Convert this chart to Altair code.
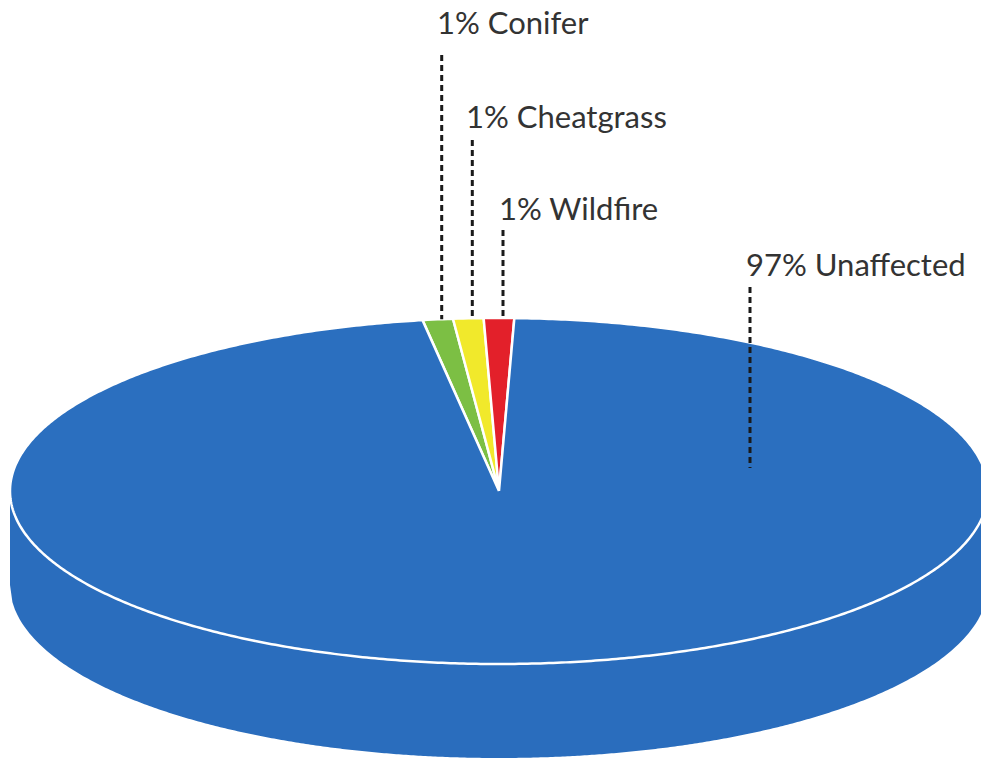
import numpy as np
import pandas as pd
import altair as alt

# ---- data ----
categories = ["Conifer", "Cheatgrass", "Wildfire", "Unaffected"]
percent = [1, 1, 1, 97]
colors = ["#7cbf44", "#f1e92b", "#e3202a", "#2b6fbf"]

# ---- layout (pixels) ----
CX, CY, RX, RY, THICK = 499.0, 491.0, 489.0, 173.0, 94.0
START_DEG = -9.0  # angle (clockwise from top) where the first slice starts
label_text_x = [437, 466, 499, 746]
label_baseline = [34, 128, 220, 276]
line_top = [55, 140, 230, 287]
unaffected_line = (750, 468)

# ---- geometry derived from values ----
rows = []
total = float(sum(percent))
a0 = START_DEG
mids = []
for i, (cat, p) in enumerate(zip(categories, percent)):
    span = 360.0 * p / total
    a1 = a0 + span
    mids.append((a0 + a1) / 2)
    n = max(4, int(span * 2))
    angs = np.radians(np.linspace(a0, a1, n))
    k = 0
    rows.append(dict(slice=cat, k=k, x=CX, y=CY)); k += 1
    for t in angs:
        rows.append(dict(slice=cat, k=k, x=CX + RX * np.sin(t), y=CY - RY * np.cos(t))); k += 1
    rows.append(dict(slice=cat, k=k, x=CX, y=CY))
    a0 = a1
slices_df = pd.DataFrame(rows)

u = np.linspace(-1, 1, 401)
side_df = pd.DataFrame({
    "x": CX + RX * u,
    "y": CY + RY * np.sqrt(1 - u ** 2),
})
side_df["y2"] = side_df["y"] + THICK

lab_rows = []
for i, cat in enumerate(categories):
    text = f"{percent[i]}% {cat}"
    if cat == "Unaffected":
        lx, lb = unaffected_line
    else:
        m = np.radians(mids[i])
        lx = CX + RX * np.sin(m) + 4
        lb = CY - RY * np.cos(m)
    lab_rows.append(dict(label=text, tx=label_text_x[i], ty=label_baseline[i],
                         lx=lx, ly1=line_top[i], ly2=lb))
labels_df = pd.DataFrame(lab_rows)

xs = alt.Scale(domain=[8, 981], nice=False, zero=False)
ys = alt.Scale(domain=[8, 758], nice=False, zero=False, reverse=True)

side = alt.Chart(side_df).mark_area(color="#2a6dbd", clip=True).encode(
    x=alt.X("x:Q", scale=xs, axis=None),
    y=alt.Y("y:Q", scale=ys, axis=None),
    y2="y2:Q",
)

pie = alt.Chart(slices_df).mark_line(stroke="white", strokeWidth=2.5, clip=True,
                                     strokeJoin="miter", interpolate="linear").encode(
    x=alt.X("x:Q", scale=xs, axis=None),
    y=alt.Y("y:Q", scale=ys, axis=None),
    fill=alt.Fill("slice:N", scale=alt.Scale(domain=categories, range=colors), legend=None),
    detail="slice:N",
    order="k:Q",
)

leaders = alt.Chart(labels_df).mark_rule(color="#1a1a1a", strokeWidth=3,
                                         strokeDash=[6, 4]).encode(
    x=alt.X("lx:Q", scale=xs, axis=None),
    y=alt.Y("ly1:Q", scale=ys, axis=None),
    y2="ly2:Q",
)

texts = alt.Chart(labels_df).mark_text(align="left", baseline="alphabetic",
                                       font="Lato", fontSize=31, color="#333333").encode(
    x=alt.X("tx:Q", scale=xs, axis=None),
    y=alt.Y("ty:Q", scale=ys, axis=None),
    text="label:N",
)

chart = alt.layer(side, pie, leaders, texts).properties(
    width=973, height=750, padding=0
).configure_view(stroke=None)

chart.save("out.html", embed_options={"renderer": "svg", "actions": False})
